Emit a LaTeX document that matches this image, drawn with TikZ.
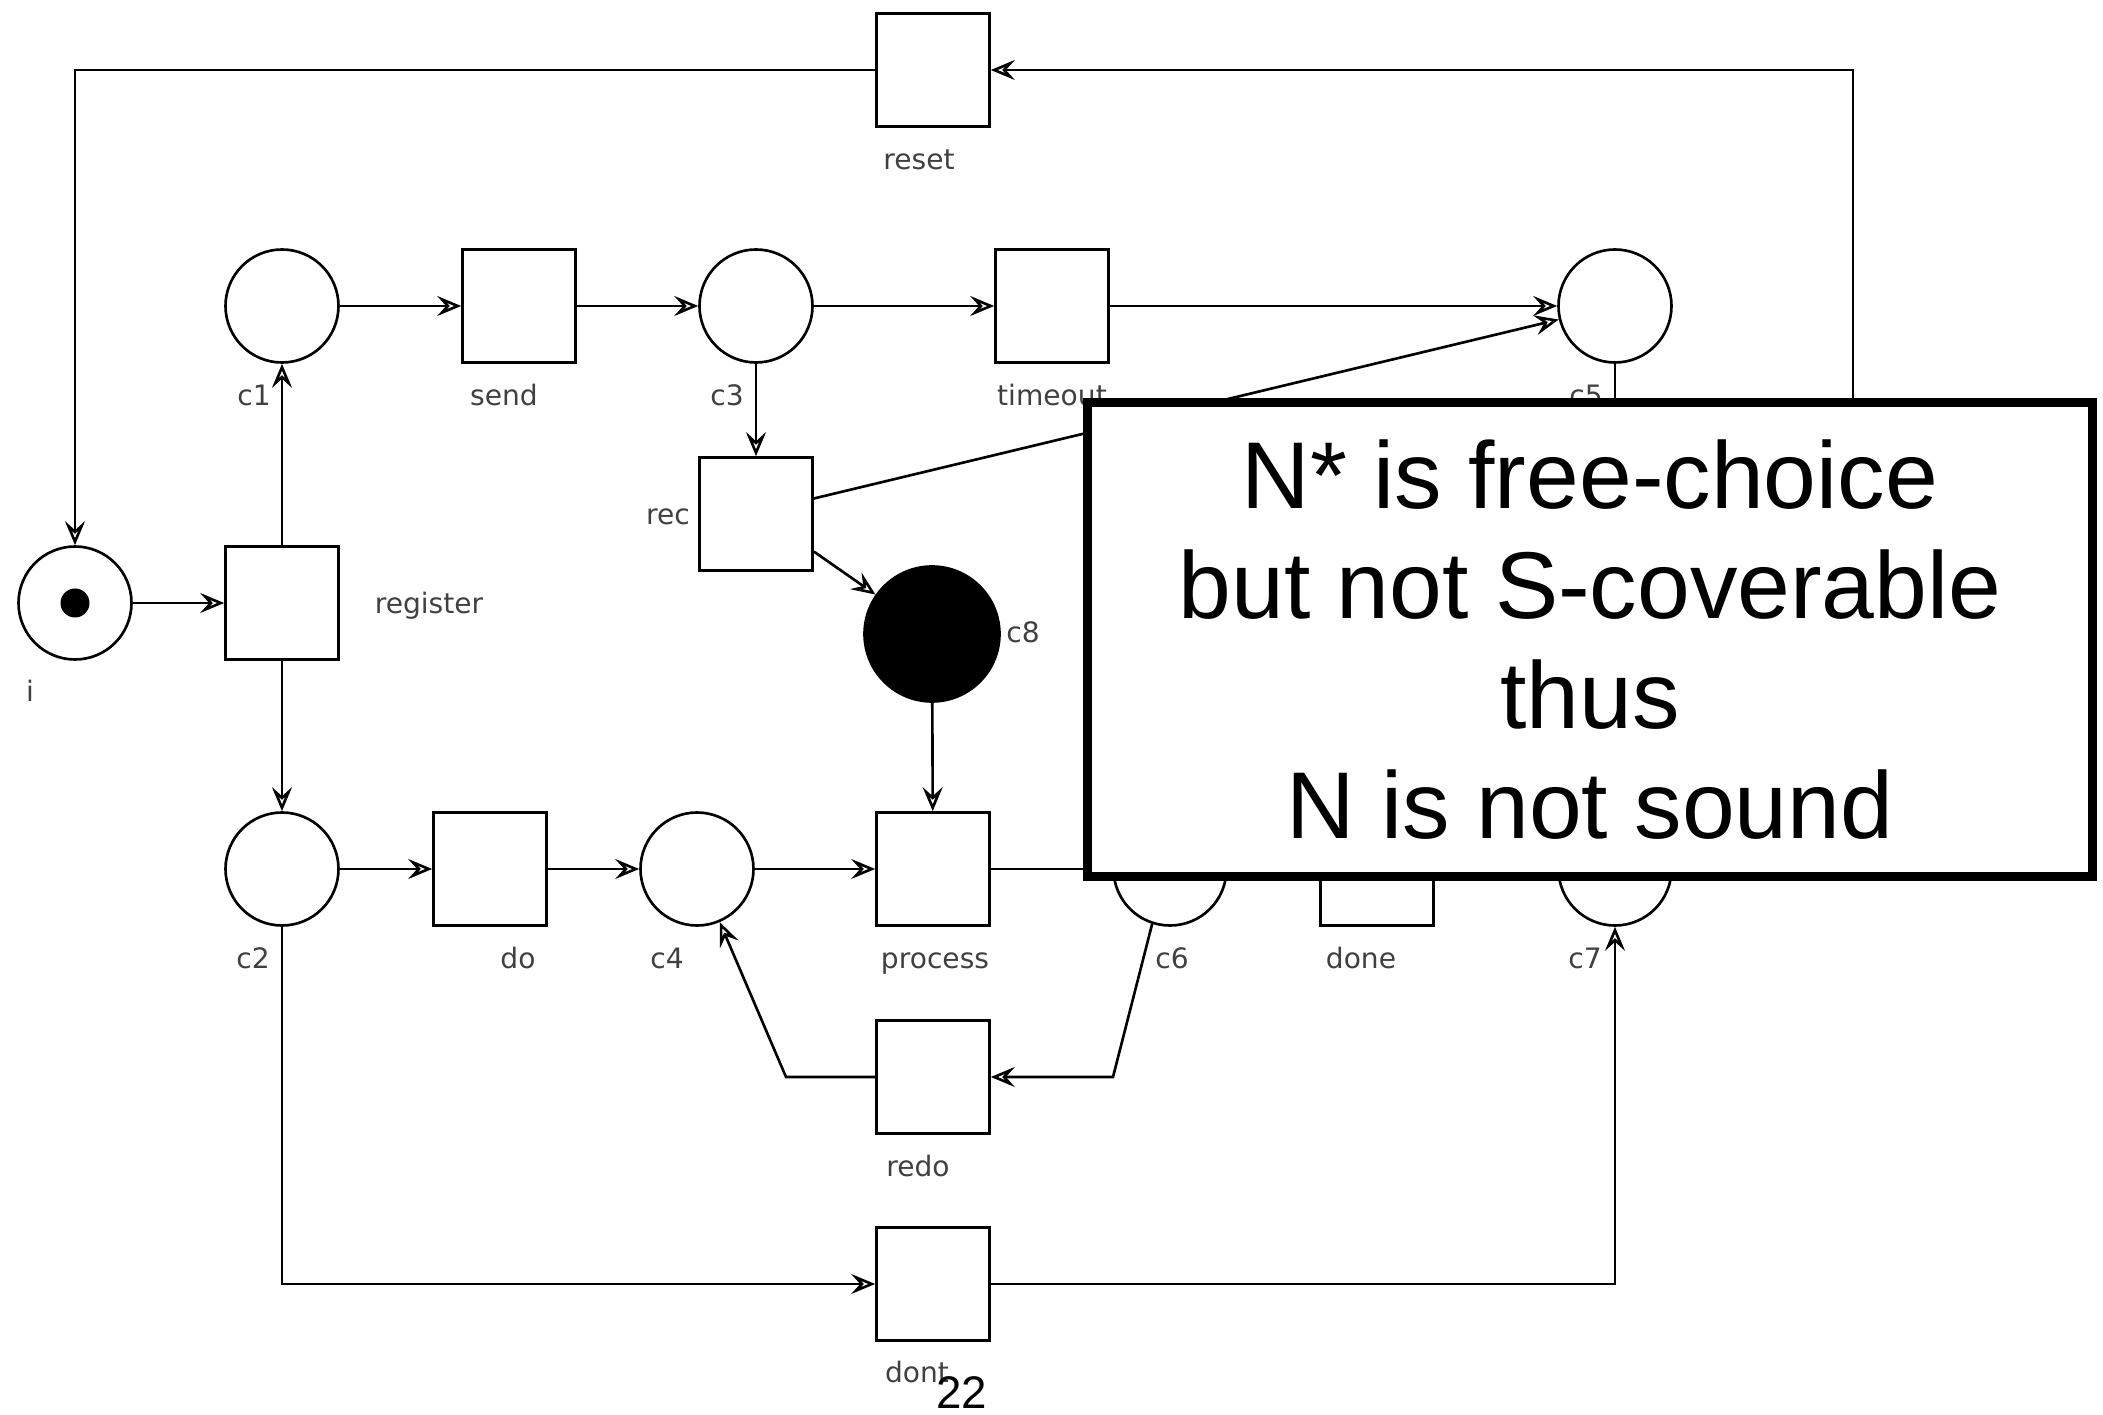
\documentclass[tikz,border=0pt]{standalone}
\usepackage{fontspec}
\newfontfamily\lblfont{DejaVu Sans}
\newfontfamily\notefont{Liberation Sans}
\usetikzlibrary{arrows.meta, positioning}

\begin{document}
\begin{tikzpicture}[
		place/.style={circle, draw, line width=0.75pt, minimum size=1.13cm, inner sep=0pt},
		trans/.style={rectangle, draw, line width=0.75pt, minimum size=1.13cm, inner sep=0pt},
		lbl/.style={anchor=base, inner sep=0pt, text=black!75,
			font=\lblfont\fontsize{8}{9}\selectfont},
		arc/.style={-{Stealth[open, length=2.4mm, width=2mm, inset=0.9mm]}, line width=0.75pt},
		plain/.style={line width=0.75pt},
		note/.style={rectangle, draw, line width=2.6pt, fill=white,
			minimum width=10.05cm, minimum height=4.74cm, align=center,
			font=\notefont\fontsize{27}{31.3}\selectfont}
		]
		\useasboundingbox (0,0) rectangle (21.03,-14.15);
		
		% Places
		\node[place] (i)   at (0.75, -6.03)  {};
		\node[circle, fill, inner sep=0pt, minimum size=0.29cm] (tok) at (i) {};
		\node[place] (c1)  at (2.82, -3.06)  {};
		\node[place] (c3)  at (7.56, -3.06)  {};
		\node[place] (c5)  at (16.15, -3.06) {};
		\node[place, fill, minimum size=1.35cm] (c8) at (9.32, -6.34) {};
		\node[place] (c2)  at (2.82, -8.69)  {};
		\node[place] (c4)  at (6.97, -8.69)  {};
		\node[place] (c6)  at (11.70, -8.69) {};
		\node[place] (c7)  at (16.15, -8.69) {};
		
		% Transitions
		\node[trans] (reset)    at (9.33, -0.70)  {};
		\node[trans] (register) at (2.82, -6.03)  {};
		\node[trans] (send)     at (5.19, -3.06)  {};
		\node[trans] (timeout)  at (10.52, -3.06) {};
		\node[trans] (rec)      at (7.56, -5.14)  {};
		\node[trans] (do)       at (4.90, -8.69)  {};
		\node[trans] (process)  at (9.33, -8.69)  {};
		\node[trans] (done)     at (13.77, -8.69) {};
		\node[trans] (redo)     at (9.33, -10.77) {};
		\node[trans] (dont)     at (9.33, -12.84) {};
		
		% Labels
		\node[lbl] (l-i)        at (0.30, -7.02)  {i};
		\node[lbl] (l-c1)       at (2.54, -4.06)  {c1};
		\node[lbl] (l-send)     at (5.04, -4.06)  {send};
		\node[lbl] (l-c3)       at (7.27, -4.06)  {c3};
		\node[lbl] (l-timeout)  at (10.52, -4.06) {timeout};
		\node[lbl] (l-c5)       at (15.86, -4.06) {c5};
		\node[lbl] (l-rec)      at (6.68, -5.25)  {rec};
		\node[lbl] (l-register) at (4.29, -6.14)  {register};
		\node[lbl] (l-c8)       at (10.23, -6.43) {c8};
		\node[lbl] (l-c2)       at (2.53, -9.69)  {c2};
		\node[lbl] (l-do)       at (5.18, -9.69)  {do};
		\node[lbl] (l-c4)       at (6.67, -9.69)  {c4};
		\node[lbl] (l-process)  at (9.35, -9.69)  {process};
		\node[lbl] (l-c6)       at (11.72, -9.69) {c6};
		\node[lbl] (l-done)     at (13.61, -9.69) {done};
		\node[lbl] (l-c7)       at (15.85, -9.69) {c7};
		\node[lbl] (l-reset)    at (9.19, -1.70)  {reset};
		\node[lbl] (l-redo)     at (9.18, -11.77) {redo};
		\node[lbl] (l-dont)     at (9.17, -13.83) {dont};
		
		% Arcs
		\draw[arc] (i) -- (register);
		\draw[arc] (register) -- (c1);
		\draw[arc] (register) -- (c2);
		\draw[arc] (c1) -- (send);
		\draw[arc] (send) -- (c3);
		\draw[arc] (c3) -- (timeout);
		\draw[arc] (timeout) -- (c5);
		\draw[arc] (c3) -- (rec);
		\draw[arc] (rec.15) -- (c5);
		\draw[arc] (rec.-33) -- (c8);
		\draw[arc] (c8) -- (process);
		\draw[arc] (c2) -- (do);
		\draw[arc] (do) -- (c4);
		\draw[arc] (c4) -- (process);
		\draw[arc] (process) -- (c6);
		\coordinate (c6-bend) at (11.13, -10.77);
		\draw[arc] (c6.252) -- (c6-bend) -- (redo);
		\coordinate (redo-bend) at (7.86, -10.77);
		\draw[arc] (redo) -- (redo-bend) -- (c4);
		\draw[arc] (c2) |- (dont);
		\draw[arc] (dont) -| (c7);
		\draw[arc] (reset) -| (i);
		\coordinate (back) at (18.53, -5.5);
		\draw[arc] (back) |- (reset);
		\coordinate (c5-out) at (16.15, -4.6);
		\draw[plain] (c5) -- (c5-out);
		
		% Note
		\node[note] (claim) at (15.90, -6.395)
		{N* is free-choice\\but not S-coverable\\thus\\N is not sound};
		\node[anchor=base, inner sep=0pt, font=\notefont\fontsize{13}{15}\selectfont]
		(pagenum) at (9.62, -14.09) {22};
	\end{tikzpicture}
\end{document}
